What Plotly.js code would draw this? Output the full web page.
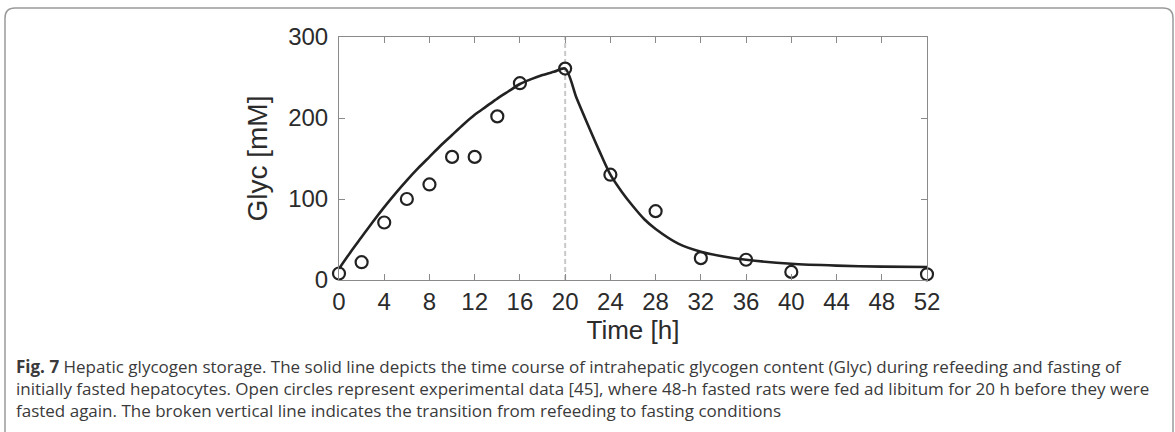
<!DOCTYPE html>
<html>
<head>
<meta charset="utf-8">
<script src="https://cdn.plot.ly/plotly-3.0.1.min.js"></script>
<style>
  html, body { margin: 0; padding: 0; background: #ffffff; }
  #chart { width: 1175px; height: 432px; }
</style>
</head>
<body>
<div id="chart"></div>
<script>
// ---- data ----
const modelTime = [0, 1, 2, 3, 4, 5, 6, 7, 8, 9, 10, 11, 12, 13, 14, 15, 16, 17, 18, 19, 20,
                   21, 22, 23, 24, 25, 26, 27, 28, 30, 32, 34, 36, 40, 44, 48, 52];
const modelGlyc = [14, 34, 53, 72, 90, 107, 123, 138, 152, 166, 179, 192, 204, 214, 224, 233, 242, 248, 253, 257, 261,
                   225, 192, 160, 130, 109, 91, 75, 63, 45, 35, 29, 25, 20, 17.7, 16.5, 16];
const expTime = [0, 2, 4, 6, 8, 10, 12, 14, 16, 20, 24, 28, 32, 36, 40, 52];
const expGlyc = [8, 22, 71, 100, 118, 152, 152, 202, 243, 261, 130, 85, 27, 25, 10, 7];
const transitionTime = 20;
const xTickVals = [0, 4, 8, 12, 16, 20, 24, 28, 32, 36, 40, 44, 48, 52];
const xTickText = ['0', '4', '8', '12', '16', '20', '24', '28', '32', '36', '40', '44', '48', '52'];
const yTickVals = [0, 100, 200, 300];
const yTickText = ['0', '100', '200', '300'];
const xTitle = 'Time [h]';
const yTitle = 'Glyc [mM]';
const captionLines = [
  '<b>Fig. 7</b> Hepatic glycogen storage. The solid line depicts the time course of intrahepatic glycogen content (Glyc) during refeeding and fasting of',
  'initially fasted hepatocytes. Open circles represent experimental data [45], where 48-h fasted rats were fed ad libitum for 20 h before they were',
  'fasted again. The broken vertical line indicates the transition from refeeding to fasting conditions'
];

// ---- layout geometry (pixels) ----
const W = 1175, H = 432;
const M = { l: 339, r: 248, t: 37, b: 152 };
const PW = W - M.l - M.r, PH = H - M.t - M.b;
const px2x = p => (p - M.l) / PW;
const py2y = p => (H - M.b - p) / PH;

const traces = [
  {
    x: modelTime, y: modelGlyc, type: 'scatter', mode: 'lines',
    line: { color: '#222222', width: 2.6, shape: 'spline', smoothing: 0.8 },
    hoverinfo: 'skip', showlegend: false
  },
  {
    x: expTime, y: expGlyc, type: 'scatter', mode: 'markers',
    marker: { symbol: 'circle-open', size: 12, color: '#222222', line: { width: 2.2, color: '#222222' } },
    cliponaxis: false, showlegend: false
  }
];

const annotations = captionLines.map((t, i) => ({
  text: t, showarrow: false, xref: 'paper', yref: 'paper',
  x: px2x(14), y: py2y(366 + i * 22), xanchor: 'left', yanchor: 'middle', align: 'left',
  font: { family: 'Open Sans, Noto Sans, sans-serif', size: 17, color: '#3a3a3a' }
}));

// rounded frame
const fx0 = 5, fy0 = 8, fx1 = 1173, fy1 = 445, rr = 10;
const P = (x, y) => px2x(x) + ',' + py2y(y);
const framePath = 'M ' + P(fx0, fy1) + ' L ' + P(fx0, fy0 + rr) + ' Q ' + P(fx0, fy0) + ' ' + P(fx0 + rr, fy0) +
  ' L ' + P(fx1 - rr, fy0) + ' Q ' + P(fx1, fy0) + ' ' + P(fx1, fy0 + rr) + ' L ' + P(fx1, fy1);

const layout = {
  width: W, height: H,
  margin: M,
  paper_bgcolor: '#ffffff', plot_bgcolor: '#ffffff',
  font: { family: 'Liberation Sans, Arial, sans-serif', color: '#2b2b2b' },
  showlegend: false,
  xaxis: {
    range: [0, 52], tickvals: xTickVals, ticktext: xTickText,
    showgrid: false, zeroline: false, showline: true, linecolor: '#8a8a8a', linewidth: 1,
    mirror: 'ticks', ticks: 'inside', ticklen: 6, tickcolor: '#8a8a8a', tickwidth: 1,
    tickfont: { size: 24, color: '#2b2b2b' },
    title: { text: xTitle, font: { size: 26, color: '#2b2b2b' }, standoff: 4 },
    fixedrange: true
  },
  yaxis: {
    range: [0, 300], tickvals: yTickVals, ticktext: yTickText,
    showgrid: false, zeroline: false, showline: true, linecolor: '#8a8a8a', linewidth: 1,
    mirror: 'ticks', ticks: 'inside', ticklen: 6, tickcolor: '#8a8a8a', tickwidth: 1,
    ticklabelstandoff: 5,
    tickfont: { size: 24, color: '#2b2b2b' },
    title: { text: yTitle, font: { size: 28, color: '#2b2b2b' }, standoff: 12 },
    fixedrange: true
  },
  shapes: [
    {
      type: 'line', xref: 'x', yref: 'y', x0: transitionTime, x1: transitionTime, y0: 0, y1: 300,
      line: { color: '#c8c8c8', width: 2, dash: '5px,3px' }, layer: 'below'
    },
    {
      type: 'path', xref: 'paper', yref: 'paper', path: framePath,
      line: { color: '#9a9a9a', width: 1.5 }, layer: 'below'
    }
  ],
  annotations: annotations
};

Plotly.newPlot('chart', traces, layout, { displayModeBar: false, staticPlot: true });
</script>
</body>
</html>
